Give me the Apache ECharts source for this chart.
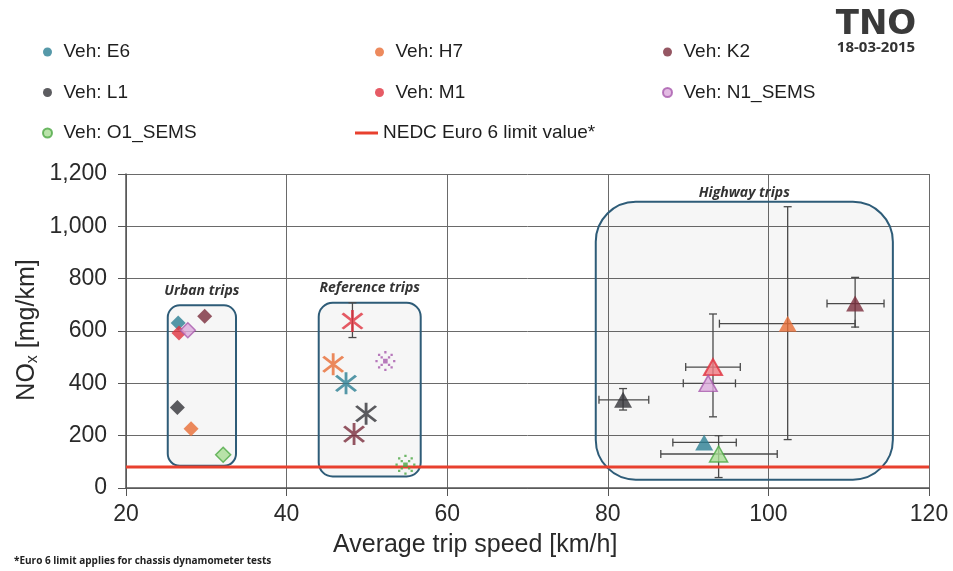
<!DOCTYPE html>
<html>
<head>
<meta charset="utf-8">
<script src="https://cdn.jsdelivr.net/npm/echarts@6/dist/echarts.min.js"></script>
<style>
  html, body { margin: 0; padding: 0; background: #fff; }
  #chart { width: 953px; height: 571px; }
</style>
</head>
<body>
<div id="chart"></div>
<script>
let vehicles = ['Veh: E6', 'Veh: H7', 'Veh: K2', 'Veh: L1', 'Veh: M1', 'Veh: N1_SEMS', 'Veh: O1_SEMS']
let limitName = 'NEDC Euro 6 limit value*'

// urban trips (diamonds)
let urbanSpeed = [26.5, 28.1, 29.8, 26.4, 26.6, 27.7, 32.1]
let urbanNox = [631, 226, 656, 308, 592, 603, 127]
// reference trips (stars)
let refSpeed = [47.4, 45.8, 48.4, 49.9, 48.2, 52.3, 54.8]
let refNox = [400, 473, 206, 284, 638, 485, 89]
let refNoxLow = [null, null, null, null, 575, null, null]
let refNoxHigh = [null, null, null, null, 708, null, null]
// highway trips (triangles) with spread
let hwySpeed = [92.0, 102.4, 110.8, 81.9, 93.1, 92.5, 93.8]
let hwyNox = [174, 628, 705, 337, 462, 400, 130]
let hwySpeedLow = [88.1, 93.9, 107.3, 78.9, 89.7, 89.4, 86.6]
let hwySpeedHigh = [96.0, 110.8, 114.4, 85.1, 96.5, 95.9, 101.1]
let hwyNoxLow = [null, 185, 615, 298, 272, null, 40]
let hwyNoxHigh = [null, 1075, 805, 380, 665, null, 200]

let limitSpeed = [20, 120]
let limitNox = [80, 80]

// trip group boxes
let boxNames = ['Urban trips', 'Reference trips', 'Highway trips']
let boxSpeedMin = [25.2, 44.0, 78.5]
let boxSpeedMax = [33.7, 56.7, 115.5]
let boxNoxMin = [85, 44, 32]
let boxNoxMax = [698, 708, 1094]

let xTicks = [20, 40, 60, 80, 100, 120]
let yTicks = [0, 200, 400, 600, 800, 1000, 1200]

let colors = ['#2c7f93', '#e96d35', '#7a2d3c', '#333338', '#e0323e', '#a85aac', '#4ca744']
let fills = ['#2c7f93', '#e96d35', '#7a2d3c', '#333338', '#e0323e', '#dcaadc', '#a9dd95']
let boxRadius = [12, 14, 40]
let boxLabelGap = [14, 15, 9]

function sq(cx, cy, s) {
  return `M${cx - s},${cy - s}L${cx + s},${cy - s}L${cx + s},${cy + s}L${cx - s},${cy + s}Z`
}

let starSymbol = 'path://M9,0L11,0L11,20L9,20Z M2.22,3.78L3.78,2.22L17.78,16.22L16.22,17.78Z M16.22,2.22L17.78,3.78L3.78,17.78L2.22,16.22Z'

let dotted = [sq(10, 10, 2.2)]
for (let k = 0; k < 8; k++) {
  let a = k * Math.PI / 4
  dotted.push(sq(10 + 8.5 * Math.cos(a), 10 + 8.5 * Math.sin(a), 1.1))
  if (k % 2 == 1) dotted.push(sq(10 + 5 * Math.cos(a), 10 + 5 * Math.sin(a), 1.1))
}
let dottedStarSymbol = 'path://' + dotted.join(' ')

function vehicleSeries(i) {
  let sems = vehicles[i].indexOf('SEMS') >= 0
  return {
    name: vehicles[i],
    type: 'scatter',
    z: 4,
    itemStyle: { color: fills[i], borderColor: colors[i], borderWidth: sems ? 1.5 : 0 },
    data: [
      { value: [urbanSpeed[i], urbanNox[i]], symbol: 'diamond', symbolSize: 15 },
      {
        value: [refSpeed[i], refNox[i]],
        symbol: sems ? dottedStarSymbol : starSymbol,
        symbolSize: sems ? 20 : 22,
        itemStyle: { color: colors[i], borderWidth: 0 }
      },
      {
        value: [hwySpeed[i], hwyNox[i]], symbol: 'triangle', symbolSize: [18, 16],
        itemStyle: i == 4 ? { color: '#f07a82', borderColor: colors[i], borderWidth: 2 } : {}
      }
    ]
  }
}

let errorData = []
for (let i = 0; i < vehicles.length; i++) {
  errorData.push([hwySpeed[i], hwyNox[i], hwySpeedLow[i], hwySpeedHigh[i], hwyNoxLow[i], hwyNoxHigh[i]])
  if (refNoxLow[i] != null) {
    errorData.push([refSpeed[i], refNox[i], null, null, refNoxLow[i], refNoxHigh[i]])
  }
}

let boxData = boxNames.map((n, i) => [boxSpeedMin[i], boxSpeedMax[i], boxNoxMin[i], boxNoxMax[i]])

let legendText = { fontFamily: 'Liberation Sans', fontSize: 19, color: '#1e1e1e', lineHeight: 22 }
let legendBase = { orient: 'vertical', itemGap: 18.5, itemWidth: 22, itemHeight: 9, icon: 'circle', textStyle: legendText, selectedMode: false }

let option = {
  animation: false,
  backgroundColor: '#fff',
  grid: { left: 126, right: 24, top: 174, bottom: 83, outerBoundsMode: 'none' },
  legend: [
    Object.assign({}, legendBase, { data: [vehicles[0], vehicles[3], vehicles[6]], left: 37, top: 36 }),
    Object.assign({}, legendBase, { data: [vehicles[1], vehicles[4]], left: 370, top: 36 }),
    Object.assign({}, legendBase, { data: [limitName], left: 350, top: 117, icon: 'rect', itemWidth: 23, itemHeight: 3 }),
    Object.assign({}, legendBase, { data: [vehicles[2], vehicles[5]], left: 657, top: 36 })
  ],
  xAxis: {
    type: 'value',
    min: xTicks[0], max: xTicks[xTicks.length - 1], interval: 20,
    axisLine: { show: true, lineStyle: { color: '#555', width: 1.5 } },
    axisTick: { show: true, length: 8, lineStyle: { color: '#555' } },
    axisLabel: { fontFamily: 'Liberation Sans', fontSize: 23, color: '#2a2a2a', margin: 15 },
    splitLine: { show: true, lineStyle: { color: '#6a6a6a', width: 1 } }
  },
  yAxis: {
    type: 'value',
    min: yTicks[0], max: yTicks[yTicks.length - 1], interval: 200,
    axisLine: { show: true, lineStyle: { color: '#555', width: 1.5 } },
    axisTick: { show: true, length: 8, lineStyle: { color: '#555' } },
    axisLabel: {
      fontFamily: 'Liberation Sans', fontSize: 23, color: '#2a2a2a', margin: 19,
      formatter: (v) => v.toLocaleString('en-US')
    },
    splitLine: { show: true, lineStyle: { color: '#6a6a6a', width: 1 } }
  },
  graphic: [
    {
      type: 'text', left: 333, top: 533,
      style: { text: 'Average trip speed [km/h]', font: '25px "Liberation Sans"', fill: '#2a2a2a' }
    },
    {
      type: 'text', x: 27, y: 330, rotation: Math.PI / 2,
      style: {
        text: '{n|NO}{s|x}{n| [mg/km]}', align: 'center', verticalAlign: 'middle',
        rich: {
          n: { fontFamily: 'Liberation Sans', fontSize: 25, fill: '#2a2a2a' },
          s: { fontFamily: 'Liberation Sans', fontSize: 16, fill: '#2a2a2a', padding: [12, 0, 0, 0] }
        }
      }
    },
    {
      type: 'text', left: 14, top: 556,
      style: { text: '*Euro 6 limit applies for chassis dynamometer tests', font: 'bold 10px "Open Sans"', fill: '#222' }
    },
    {
      type: 'text', x: 876, y: 25,
      style: { text: 'TNO', font: 'bold 34px "DejaVu Sans"', fill: '#3a3a3a', align: 'center', verticalAlign: 'middle' }
    },
    {
      type: 'text', x: 876, y: 48,
      style: { text: '18-03-2015', font: 'bold 15px "Open Sans"', fill: '#333', align: 'center', verticalAlign: 'middle' }
    }
  ],
  series: [
    {
      type: 'custom',
      z: 1,
      silent: true,
      encode: { x: [0, 1], y: [2, 3] },
      data: boxData,
      renderItem: (params, api) => {
        let i = params.dataIndex
        let p0 = api.coord([api.value(0), api.value(3)])
        let p1 = api.coord([api.value(1), api.value(2)])
        return {
          type: 'group',
          children: [
            {
              type: 'rect',
              shape: { x: p0[0], y: p0[1], width: p1[0] - p0[0], height: p1[1] - p0[1], r: boxRadius[i] },
              style: { fill: 'rgba(0,0,0,0.035)', stroke: '#2e5c78', lineWidth: 2 }
            },
            {
              type: 'text',
              x: (p0[0] + p1[0]) / 2, y: p0[1] - boxLabelGap[i],
              style: {
                text: boxNames[i], align: 'center', verticalAlign: 'middle',
                font: 'italic bold 14px "Open Sans"', fill: '#333'
              }
            }
          ]
        }
      }
    },
    {
      name: limitName,
      type: 'line',
      z: 3,
      symbol: 'none',
      color: '#e8402e',
      lineStyle: { color: '#e8402e', width: 3 },
      data: limitSpeed.map((x, i) => [x, limitNox[i]])
    },
    {
      type: 'custom',
      z: 2,
      silent: true,
      encode: { x: 0, y: 1 },
      data: errorData,
      renderItem: (params, api) => {
        let cap = 4
        let lines = []
        let st = { stroke: '#4a4a4a', lineWidth: 1.3 }
        let x = api.value(0), y = api.value(1)
        let xl = api.value(2), xh = api.value(3), yl = api.value(4), yh = api.value(5)
        if (!isNaN(xl) && !isNaN(xh)) {
          let a = api.coord([xl, y]), b = api.coord([xh, y])
          lines.push({ type: 'line', shape: { x1: a[0], y1: a[1], x2: b[0], y2: b[1] }, style: st })
          lines.push({ type: 'line', shape: { x1: a[0], y1: a[1] - cap, x2: a[0], y2: a[1] + cap }, style: st })
          lines.push({ type: 'line', shape: { x1: b[0], y1: b[1] - cap, x2: b[0], y2: b[1] + cap }, style: st })
        }
        if (!isNaN(yl) && !isNaN(yh)) {
          let a = api.coord([x, yl]), b = api.coord([x, yh])
          lines.push({ type: 'line', shape: { x1: a[0], y1: a[1], x2: b[0], y2: b[1] }, style: st })
          lines.push({ type: 'line', shape: { x1: a[0] - cap, y1: a[1], x2: a[0] + cap, y2: a[1] }, style: st })
          lines.push({ type: 'line', shape: { x1: b[0] - cap, y1: b[1], x2: b[0] + cap, y2: b[1] }, style: st })
        }
        return { type: 'group', children: lines }
      }
    }
  ].concat(vehicles.map((v, i) => vehicleSeries(i)))
}

let chart = echarts.init(document.getElementById('chart'))
chart.setOption(option)
</script>
</body>
</html>
